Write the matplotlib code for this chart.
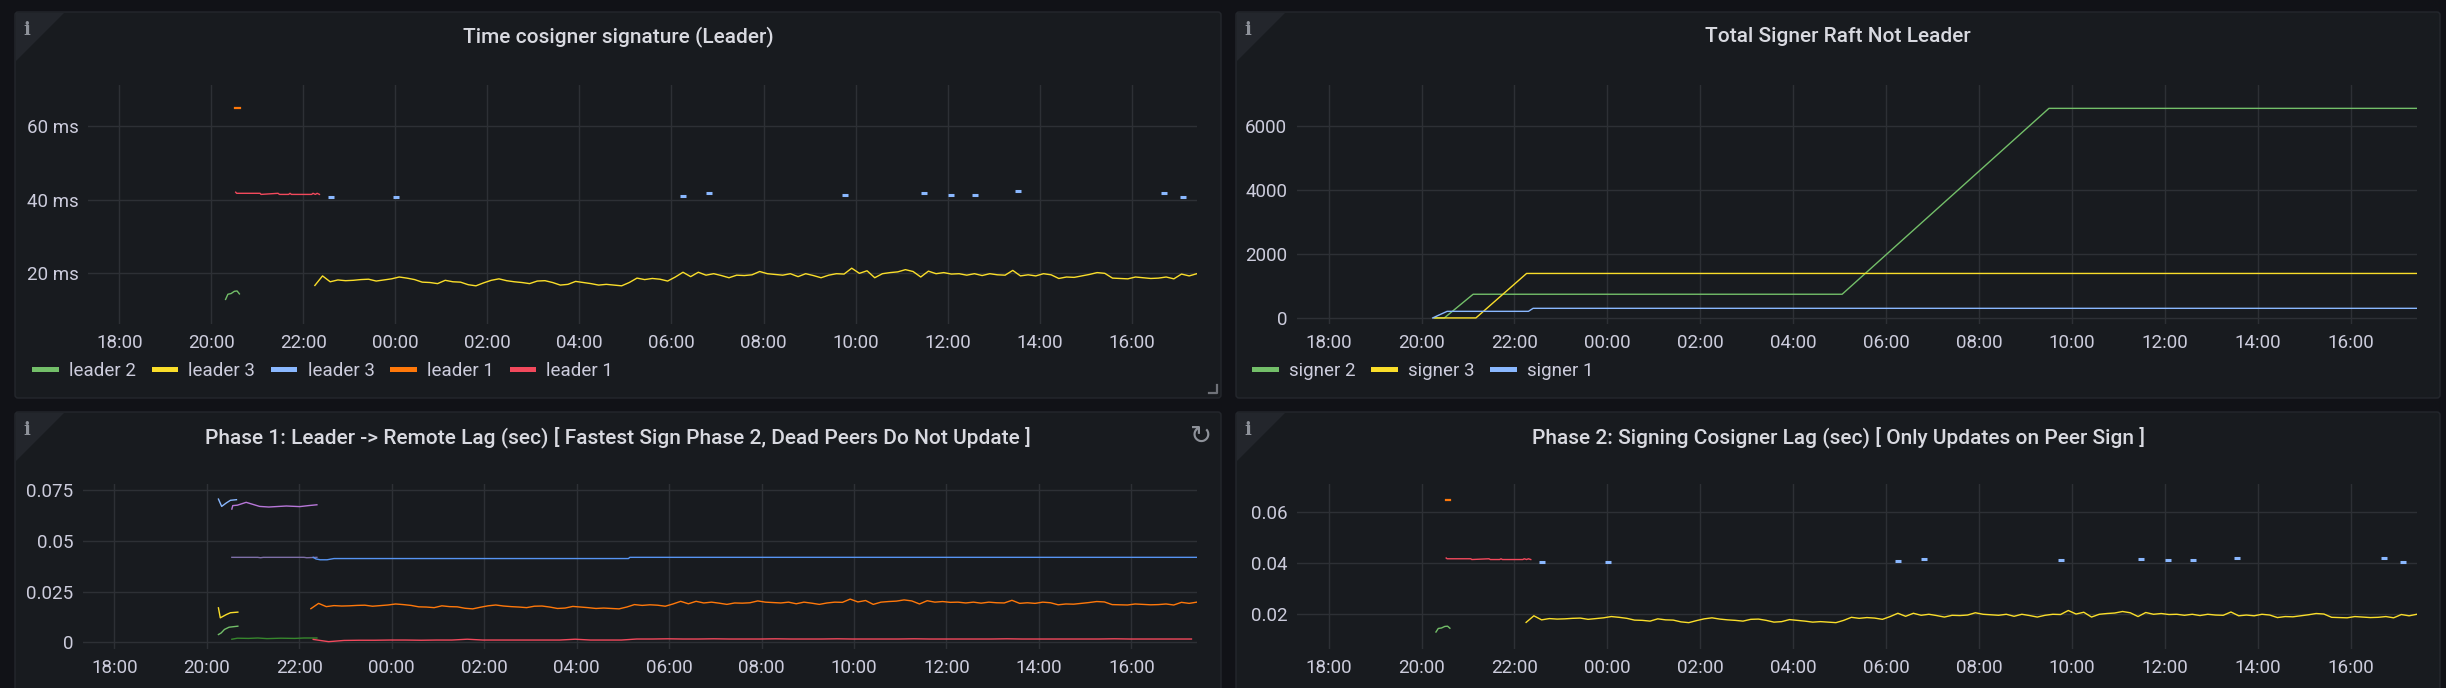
import numpy as np
import matplotlib.pyplot as plt
from matplotlib.lines import Line2D
from matplotlib.patches import FancyBboxPatch, Polygon

plt.rcParams['font.family'] = ['Roboto', 'DejaVu Sans']

W, H = 2446, 688
PAGE = '#111217'
PANEL = '#181b1f'
GRID = '#2d3035'
TXT = '#ccccdc'

# time axis in hours from midnight of day one (24 = 00:00 next day)
t_lo, t_hi = 17.32, 41.42
hour_ticks = list(range(18, 41, 2))

# ---------- Time cosigner signature (Leader), ms ----------
leader2_t = [20.31, 20.36, 20.43, 20.50, 20.56, 20.61]
leader2_v = [12.8, 14.2, 14.4, 15.0, 15.1, 14.3]

leader1_orange_t = [20.52, 20.62]
leader1_orange_v = [64.9, 64.9]

leader1_red_t = [20.53, 20.55, 21.06, 21.08, 21.45, 21.48, 21.68, 21.71, 21.74,
                 22.18, 22.21, 22.26, 22.30, 22.35]
leader1_red_v = [42.0, 41.7, 41.7, 41.4, 41.7, 41.4, 41.4, 41.7, 41.4,
                 41.4, 41.7, 41.4, 41.7, 41.4]

leader3_blue_t = [22.60, 24.02, 30.25, 30.82, 33.76, 35.48, 36.07, 36.59, 37.54, 40.70, 41.11]
leader3_blue_v = [40.6, 40.6, 40.9, 41.7, 41.2, 41.7, 41.2, 41.2, 42.2, 41.9, 40.6]

# 10 minute samples starting 22:15
leader3_start = 22.25
leader3_v = [
    16.6, 19.2, 17.6, 18.1, 17.9, 18.0, 18.2, 18.3, 17.8, 18.1, 18.4, 18.9,
    18.6, 18.2, 17.5, 17.4, 17.1, 18.0, 17.6, 17.5, 16.8, 16.5, 17.3, 18.0,
    18.4, 17.9, 17.6, 17.4, 17.1, 17.8, 17.9, 17.4, 16.7, 16.9, 17.7, 17.4,
    17.1, 16.7, 16.9, 16.7, 16.5, 17.4, 18.6, 18.2, 18.5, 18.3, 17.8, 18.9,
    20.2, 19.0, 20.2, 19.4, 19.8, 19.3, 18.7, 19.4, 19.3, 19.5, 20.4, 19.8,
    19.6, 19.4, 19.8, 19.0, 19.8, 19.3, 18.7, 19.4, 19.8, 19.7, 21.3, 19.9,
    20.6, 18.7, 19.8, 20.1, 20.3, 20.9, 20.4, 18.9, 20.5, 19.8, 20.1, 19.7,
    19.8, 19.4, 19.8, 19.3, 19.8, 19.5, 19.4, 20.7, 19.2, 19.5, 19.2, 19.8,
    19.5, 18.5, 18.9, 18.8, 19.2, 19.6, 20.1, 19.9, 18.6, 18.5, 18.4, 18.9,
    18.7, 18.5, 18.6, 18.9, 18.4, 19.7, 19.2, 19.8,
]

# ---------- Total Signer Raft Not Leader ----------
signer2_t = [20.27, 20.49, 21.11, 29.05, 33.50, 41.42]
signer2_v = [0, 0, 740, 740, 6550, 6550]
signer3_t = [20.27, 21.17, 22.26, 41.42]
signer3_v = [0, 0, 1390, 1390]
signer1_t = [20.24, 20.55, 22.30, 22.40, 41.42]
signer1_v = [0, 206, 206, 300, 300]

# ---------- Phase 1 lag (sec) ----------
p1_lightblue_t = [20.25, 20.32, 20.42, 20.51, 20.64]
p1_lightblue_v = [0.0704, 0.0668, 0.0685, 0.0698, 0.0701]
p1_purple_t = [20.54, 20.56, 20.66, 20.85, 21.14, 21.34, 21.72, 22.01, 22.20, 22.38]
p1_purple_v = [0.0655, 0.0672, 0.0674, 0.0688, 0.0668, 0.0665, 0.0670, 0.0667, 0.0672, 0.0676]
p1_greypurple_t = [20.54, 21.10, 21.16, 21.22, 22.10, 22.16, 22.38]
p1_greypurple_v = [0.0418, 0.0418, 0.0416, 0.0418, 0.0418, 0.0416, 0.0418]
p1_blue_t = [22.30, 22.36, 22.45, 22.60, 22.75, 29.12, 29.15, 41.42]
p1_blue_v = [0.0418, 0.0410, 0.0406, 0.0406, 0.0412, 0.0412, 0.0418, 0.0418]
p1_yellow_t = [20.25, 20.29, 20.42, 20.51, 20.67]
p1_yellow_v = [0.0170, 0.0121, 0.0137, 0.0146, 0.0149]
p1_lightgreen_t = [20.25, 20.31, 20.38, 20.48, 20.67]
p1_lightgreen_v = [0.0039, 0.0047, 0.0064, 0.0075, 0.0080]
p1_darkgreen_t = [20.54, 20.66, 20.90, 21.10, 21.30, 21.60, 21.90, 22.10, 22.38]
p1_darkgreen_v = [0.0016, 0.0021, 0.0020, 0.0022, 0.0019, 0.0021, 0.0020, 0.0022, 0.0022]
# 20 minute samples starting 22:18
p1_red_start = 22.30
p1_red_v = [
    0.0015, 0.0004, 0.0010, 0.0011, 0.0011, 0.0012, 0.0012, 0.0011, 0.0012, 0.0012,
    0.0016, 0.0012, 0.0012, 0.0012, 0.0012, 0.0012, 0.0012, 0.0016, 0.0012, 0.0012,
    0.0012, 0.0017, 0.0017, 0.0018, 0.0017, 0.0017, 0.0018, 0.0017, 0.0017, 0.0017,
    0.0018, 0.0017, 0.0017, 0.0017, 0.0018, 0.0017, 0.0017, 0.0017, 0.0017, 0.0018,
    0.0017, 0.0017, 0.0017, 0.0017, 0.0017, 0.0018, 0.0017, 0.0017, 0.0017, 0.0017,
    0.0017, 0.0017, 0.0018, 0.0017, 0.0017, 0.0017, 0.0017, 0.0017,
]

GREEN, YELLOW, LBLUE, ORANGE, RED = '#73bf69', '#fade2a', '#8ab8ff', '#ff780a', '#f2495c'

fig = plt.figure(figsize=(W / 100, H / 100), dpi=100, facecolor=PAGE)
bg = fig.add_axes([0, 0, 1, 1])
bg.set_xlim(0, W)
bg.set_ylim(H, 0)
bg.axis('off')

panels = [
    (15, 12, 1221, 398, 'Time cosigner signature (Leader)'),
    (1236, 12, 2440, 398, 'Total Signer Raft Not Leader'),
    (15, 412, 1221, 720, 'Phase 1: Leader -> Remote Lag (sec) [ Fastest Sign Phase 2, Dead Peers Do Not Update ]'),
    (1236, 412, 2440, 720, 'Phase 2: Signing Cosigner Lag (sec) [ Only Updates on Peer Sign ]'),
]
for x0, y0, x1, y1, title in panels:
    bg.add_patch(FancyBboxPatch((x0, y0), x1 - x0, y1 - y0,
                                boxstyle='round,pad=0,rounding_size=3',
                                fc=PANEL, ec='#24272d', lw=1))
    bg.add_patch(Polygon([(x0 + 1, y0 + 1), (x0 + 49, y0 + 1), (x0 + 1, y0 + 49)],
                         closed=True, fc='#23262c', ec='none'))
    bg.text(x0 + 12, y0 + 18, 'i', family='DejaVu Serif', weight='bold',
            fontsize=13, color='#8e929a', ha='center', va='center')
    bg.text((x0 + x1) / 2, y0 + 25, title, fontsize=15, weight='medium',
            color='#d8d9e0', ha='center', va='center')

# refresh icon and resize handle
bg.text(1201, 437, '\u21bb', family='DejaVu Sans', fontsize=19, color='#8e929a',
        ha='center', va='center')
bg.plot([1209, 1217, 1217], [393, 393, 385], color='#6f7279', lw=1.6)


def px_axes(x0, y0, x1, y1):
    ax = fig.add_axes([x0 / W, 1 - y1 / H, (x1 - x0) / W, (y1 - y0) / H])
    ax.set_facecolor('none')
    for s in ax.spines.values():
        s.set_visible(False)
    ax.grid(True, color=GRID, lw=1)
    ax.set_axisbelow(True)
    ax.tick_params(length=0, colors=TXT, labelsize=13.5, pad=7)
    ax.set_xlim(t_lo, t_hi)
    ax.set_xticks(hour_ticks)
    ax.set_xticklabels([f'{h % 24:02d}:00' for h in hour_ticks])
    return ax


LW = 1.0
leader3_t = leader3_start + np.arange(len(leader3_v)) / 6
leader3_arr = np.array(leader3_v)

# top left
ax1 = px_axes(88, 85, 1197, 324)
ax1.plot(leader2_t, leader2_v, color=GREEN, lw=LW)
ax1.plot(leader3_t, leader3_arr, color=YELLOW, lw=LW)
ax1.plot(leader3_blue_t, leader3_blue_v, ls='none', marker='_', ms=4, mew=2.2, color=LBLUE)
ax1.plot(leader1_orange_t, leader1_orange_v, color=ORANGE, lw=1.6)
ax1.plot(leader1_red_t, leader1_red_v, color=RED, lw=LW)
ax1.set_ylim(6.1, 71.2)
ax1.set_yticks([20, 40, 60])
ax1.set_yticklabels(['20 ms', '40 ms', '60 ms'])

leg_names = ['leader 2', 'leader 3', 'leader 3', 'leader 1', 'leader 1']
leg_cols = [GREEN, YELLOW, LBLUE, ORANGE, RED]
ax1.legend([Line2D([], [], color=c, lw=3.6) for c in leg_cols], leg_names,
           loc='center left', bbox_to_anchor=(34, 371), bbox_transform=bg.transData,
           ncol=5, frameon=False, fontsize=13.5, labelcolor=TXT, borderpad=0,
           borderaxespad=0, handlelength=1.15, handletextpad=0.7, columnspacing=0.95)

# top right
ax2 = px_axes(1297, 85, 2417, 324)
ax2.plot(signer2_t, signer2_v, color=GREEN, lw=LW)
ax2.plot(signer3_t, signer3_v, color=YELLOW, lw=LW)
ax2.plot(signer1_t, signer1_v, color=LBLUE, lw=LW)
ax2.set_ylim(-190, 7280)
ax2.set_yticks([0, 2000, 4000, 6000])
ax2.set_yticklabels(['0', '2000', '4000', '6000'])
ax2.legend([Line2D([], [], color=c, lw=3.6) for c in [GREEN, YELLOW, LBLUE]],
           ['signer 2', 'signer 3', 'signer 1'],
           loc='center left', bbox_to_anchor=(1254, 371), bbox_transform=bg.transData,
           ncol=3, frameon=False, fontsize=13.5, labelcolor=TXT, borderpad=0,
           borderaxespad=0, handlelength=1.15, handletextpad=0.7, columnspacing=0.95)

# bottom left
ax3 = px_axes(83, 484, 1197, 649)
ax3.plot(p1_lightblue_t, p1_lightblue_v, color=LBLUE, lw=LW)
ax3.plot(p1_purple_t, p1_purple_v, color='#b877d9', lw=LW)
ax3.plot(p1_greypurple_t, p1_greypurple_v, color='#7e6fa8', lw=LW)
ax3.plot(p1_blue_t, p1_blue_v, color='#5794f2', lw=LW)
ax3.plot(p1_yellow_t, p1_yellow_v, color=YELLOW, lw=LW)
ax3.plot(p1_lightgreen_t, p1_lightgreen_v, color=GREEN, lw=LW)
ax3.plot(p1_darkgreen_t, p1_darkgreen_v, color='#37872d', lw=LW)
ax3.plot(leader3_t, leader3_arr / 1000, color=ORANGE, lw=LW)
p1_red_t = p1_red_start + np.arange(len(p1_red_v)) / 3
ax3.plot(p1_red_t, p1_red_v, color=RED, lw=LW)
ax3.set_ylim(-0.0032, 0.0778)
ax3.set_yticks([0, 0.025, 0.05, 0.075])
ax3.set_yticklabels(['0', '0.025', '0.05', '0.075'])

# bottom right
ax4 = px_axes(1297, 484, 2417, 649)
ax4.plot(leader2_t, np.array(leader2_v) / 1000, color=GREEN, lw=LW)
ax4.plot(leader3_t, leader3_arr / 1000, color=YELLOW, lw=LW)
ax4.plot(leader3_blue_t, np.array(leader3_blue_v) / 1000, ls='none', marker='_',
         ms=4, mew=2.2, color=LBLUE)
ax4.plot(leader1_orange_t, np.array(leader1_orange_v) / 1000, color=ORANGE, lw=1.6)
ax4.plot(leader1_red_t, np.array(leader1_red_v) / 1000, color=RED, lw=LW)
ax4.set_ylim(0.0061, 0.0712)
ax4.set_yticks([0.02, 0.04, 0.06])
ax4.set_yticklabels(['0.02', '0.04', '0.06'])

fig.savefig('out.png', dpi=100, facecolor=PAGE)
